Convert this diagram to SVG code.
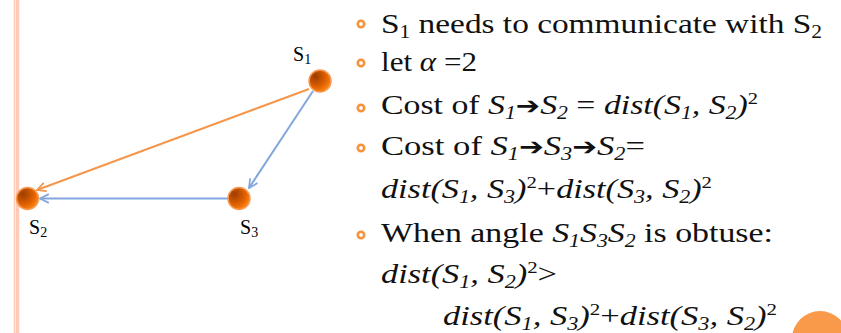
<svg xmlns="http://www.w3.org/2000/svg" width="841" height="333" viewBox="0 0 841 333">
<defs>
<radialGradient id="ball" cx="0.3" cy="0.3" r="0.8">
<stop offset="0" stop-color="#9c3d00"/>
<stop offset="0.6" stop-color="#e06000"/>
<stop offset="1" stop-color="#ff8a1a"/>
</radialGradient>
<marker id="ao" viewBox="0 0 10 10" refX="9" refY="5" markerWidth="5.5" markerHeight="5.5" orient="auto" markerUnits="strokeWidth">
<polyline points="1,1 9,5 1,9" fill="none" stroke="#f5964b" stroke-width="1.6"/>
</marker>
<marker id="ab" viewBox="0 0 10 10" refX="9" refY="5" markerWidth="5.5" markerHeight="5.5" orient="auto" markerUnits="strokeWidth">
<polyline points="1,1 9,5 1,9" fill="none" stroke="#84a6de" stroke-width="1.6"/>
</marker>
</defs>
<style>
.t{font-family:"Liberation Serif","Times New Roman",serif;font-size:28px;fill:#111}
.i{font-style:italic}
.sub{font-size:18px}
.sup{font-size:17px}
.bul{fill:#fff;stroke:#f7923a;stroke-width:2.6}
.node{fill:url(#ball);stroke:#f79b55;stroke-width:1.5}
.lbl{font-family:"Liberation Serif","Times New Roman",serif;font-size:20px;fill:#000}
.arw{font-family:"DejaVu Sans",sans-serif;font-style:normal;font-size:24px}
</style>
<rect x="0" y="0" width="841" height="333" fill="#fff"/>
<line x1="14.5" y1="0" x2="14.5" y2="333" stroke="#ffcbb8" stroke-width="1.5"/>
<line x1="17.5" y1="0" x2="17.5" y2="333" stroke="#ffcbb8" stroke-width="3.5"/>
<circle cx="820" cy="339" r="28" fill="#f9994a"/>

<g id="connectors" fill="none" stroke-width="2">
<line x1="309" y1="89" x2="37" y2="190" stroke="#f5964b" marker-end="url(#ao)"/>
<line x1="313" y1="91" x2="249" y2="188" stroke="#84a6de" marker-end="url(#ab)"/>
<line x1="228" y1="198.5" x2="40" y2="198.5" stroke="#84a6de" marker-end="url(#ab)"/>
</g>

<g id="S1">
<circle class="node" cx="320" cy="81" r="11"/>
<text class="lbl" x="293" y="61">S<tspan font-size="14" dy="3">1</tspan></text>
</g>
<g id="S2">
<circle class="node" cx="27.5" cy="198.5" r="11"/>
<text class="lbl" x="29" y="234">S<tspan font-size="14" dy="3">2</tspan></text>
</g>
<g id="S3">
<circle class="node" cx="239" cy="198.5" r="11"/>
<text class="lbl" x="240" y="234">S<tspan font-size="14" dy="3">3</tspan></text>
</g>

<g id="bullets">
<circle class="bul" cx="361" cy="24" r="3.2"/>
<circle class="bul" cx="361" cy="63" r="3.2"/>
<circle class="bul" cx="361" cy="108" r="3.2"/>
<circle class="bul" cx="361" cy="148" r="3.2"/>
<circle class="bul" cx="361" cy="235" r="3.2"/>
</g>

<g id="text">
<text class="t" x="381" y="33" textLength="441" lengthAdjust="spacingAndGlyphs">S<tspan class="sub" dy="5">1</tspan><tspan dy="-5"> needs to communicate with S</tspan><tspan class="sub" dy="5">2</tspan></text>
<text class="t" x="381" y="71" textLength="96" lengthAdjust="spacingAndGlyphs">let <tspan class="i">α</tspan> =2</text>
<text class="t" x="381" y="114" textLength="377" lengthAdjust="spacingAndGlyphs">Cost of <tspan class="i">S</tspan><tspan class="sub i" dy="5">1</tspan><tspan class="arw" dy="-5">➔</tspan><tspan class="i">S</tspan><tspan class="sub i" dy="5">2</tspan><tspan dy="-5"> = </tspan><tspan class="i">dist(S</tspan><tspan class="sub i" dy="5">1</tspan><tspan class="i" dy="-5">, S</tspan><tspan class="sub i" dy="5">2</tspan><tspan class="i" dy="-5">)</tspan><tspan class="sup" dy="-10">2</tspan></text>
<text class="t" x="381" y="155" textLength="264" lengthAdjust="spacingAndGlyphs">Cost of <tspan class="i">S</tspan><tspan class="sub i" dy="5">1</tspan><tspan class="arw" dy="-5">➔</tspan><tspan class="i">S</tspan><tspan class="sub i" dy="5">3</tspan><tspan class="arw" dy="-5">➔</tspan><tspan class="i">S</tspan><tspan class="sub i" dy="5">2</tspan><tspan dy="-5">=</tspan></text>
<text class="t i" x="381" y="198" textLength="331" lengthAdjust="spacingAndGlyphs">dist(S<tspan class="sub" dy="5">1</tspan><tspan dy="-5">, S</tspan><tspan class="sub" dy="5">3</tspan><tspan dy="-5">)</tspan><tspan class="sup" font-style="normal" dy="-10">2</tspan><tspan font-style="normal" dy="10">+</tspan>dist(S<tspan class="sub" dy="5">3</tspan><tspan dy="-5">, S</tspan><tspan class="sub" dy="5">2</tspan><tspan dy="-5">)</tspan><tspan class="sup" font-style="normal" dy="-10">2</tspan></text>
<text class="t" x="381" y="242" textLength="392" lengthAdjust="spacingAndGlyphs">When angle <tspan class="i">S</tspan><tspan class="sub i" dy="5">1</tspan><tspan class="i" dy="-5">S</tspan><tspan class="sub i" dy="5">3</tspan><tspan class="i" dy="-5">S</tspan><tspan class="sub i" dy="5">2</tspan><tspan dy="-5"> is obtuse:</tspan></text>
<text class="t i" x="381" y="283" textLength="176" lengthAdjust="spacingAndGlyphs">dist(S<tspan class="sub" dy="5">1</tspan><tspan dy="-5">, S</tspan><tspan class="sub" dy="5">2</tspan><tspan dy="-5">)</tspan><tspan class="sup" font-style="normal" dy="-10">2</tspan><tspan font-style="normal" dy="10">&gt;</tspan></text>
<text class="t i" x="443" y="325" textLength="334" lengthAdjust="spacingAndGlyphs">dist(S<tspan class="sub" dy="5">1</tspan><tspan dy="-5">, S</tspan><tspan class="sub" dy="5">3</tspan><tspan dy="-5">)</tspan><tspan class="sup" font-style="normal" dy="-10">2</tspan><tspan font-style="normal" dy="10">+</tspan>dist(S<tspan class="sub" dy="5">3</tspan><tspan dy="-5">, S</tspan><tspan class="sub" dy="5">2</tspan><tspan dy="-5">)</tspan><tspan class="sup" font-style="normal" dy="-10">2</tspan></text>
</g>
</svg>
